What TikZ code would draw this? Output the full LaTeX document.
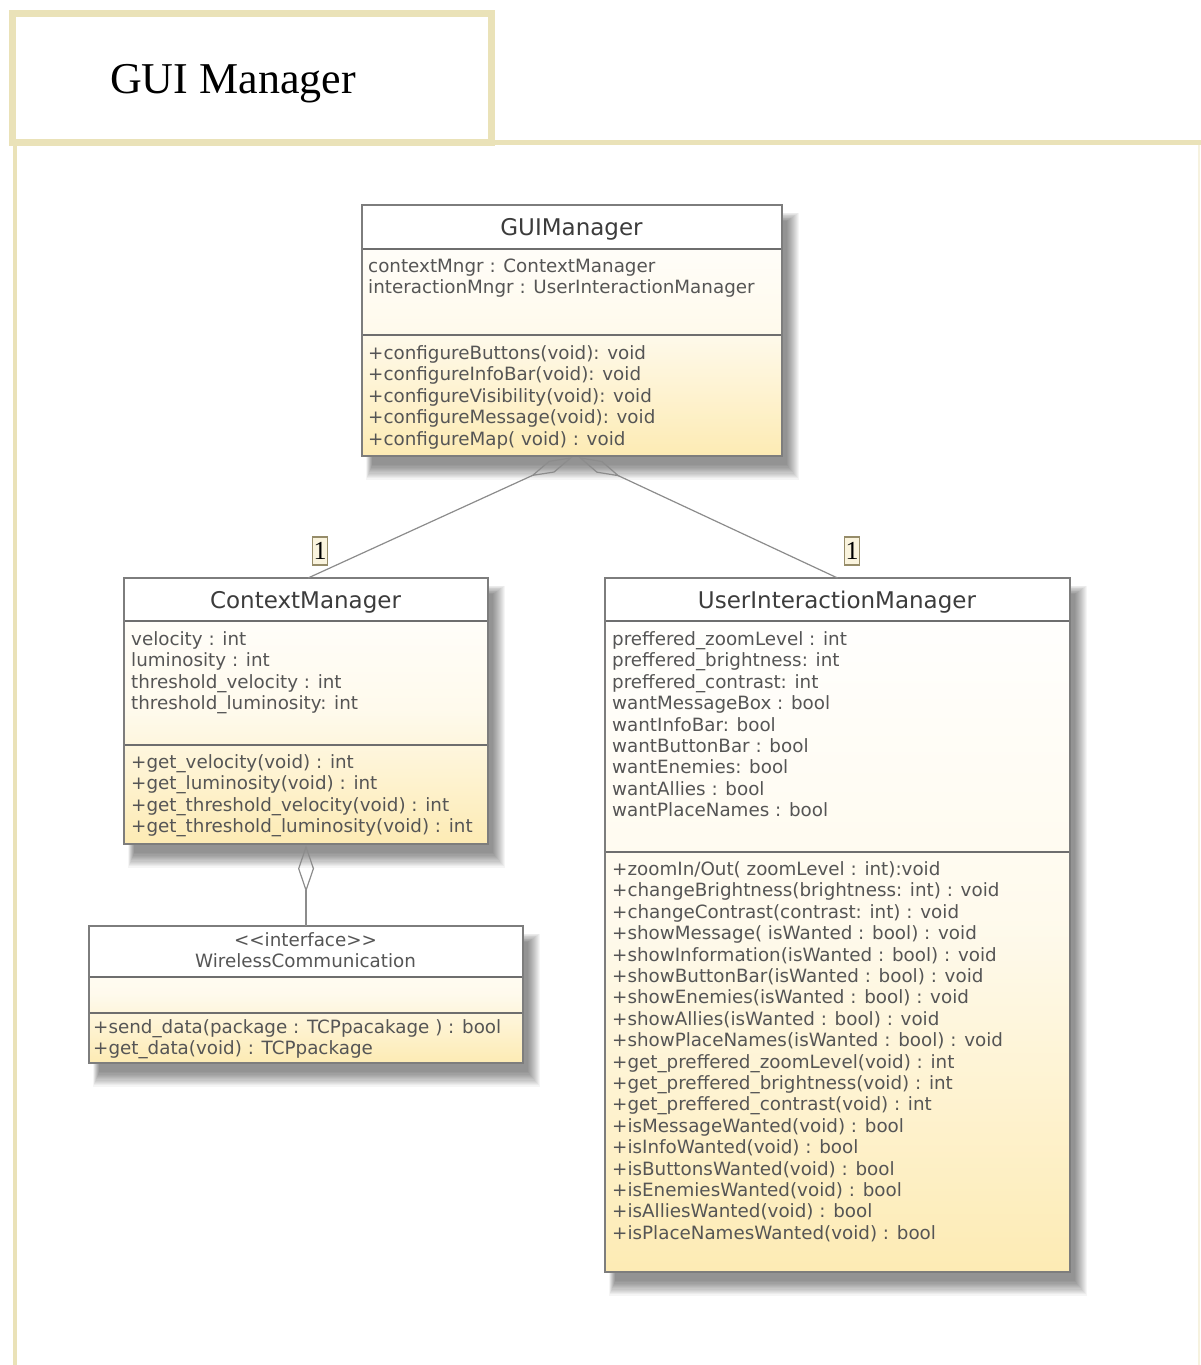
\documentclass[tikz,border=0pt]{standalone}
\usepackage{fontspec}
\newfontfamily\umlfont{DejaVu Sans}
\newfontfamily\titleserif{Liberation Serif}
\usetikzlibrary{arrows.meta,backgrounds}

\definecolor{framebeige}{RGB}{234,226,184}
\definecolor{classyellow}{RGB}{253,235,180}
\definecolor{classedge}{RGB}{125,125,125}
\definecolor{septone}{RGB}{110,110,110}
\definecolor{membertext}{RGB}{85,85,85}
\definecolor{headtext}{RGB}{60,60,60}
\definecolor{linkgray}{RGB}{140,140,140}
\definecolor{multfill}{RGB}{250,244,222}
\definecolor{multedge}{RGB}{150,140,105}

\tikzset{
  classbox/.style={rectangle, inner sep=0pt, draw=classedge, line width=1.1pt,
    top color=white, bottom color=classyellow, middle color=classyellow!25!white},
  headfill/.style={fill=white},
  sepline/.style={draw=septone, line width=1.4pt},
  edgeline/.style={draw=classedge, line width=1.1pt},
  member/.style={font=\umlfont\fontsize{18.3}{21.4}\selectfont, text=membertext, inner sep=0pt, anchor=base west},
  classname/.style={font=\umlfont\fontsize{23}{26}\selectfont, text=headtext, inner sep=0pt, anchor=base},
  link/.style={draw=linkgray, line width=1.2pt},
  mult/.style={draw=multedge, fill=multfill, line width=1.2pt, inner sep=0pt,
    minimum width=15pt, minimum height=28pt, font=\titleserif\fontsize{26}{26}\selectfont},
  shadowlayer/.style={fill=black, opacity=0.038},
}

% one node per line of a compartment: prefix, x, first baseline, lines
\newcommand\classlines[4]{%
  \foreach \t [count=\k from 0] in {#4} {\node[member] (#1\k) at (#2,{#3+21.4*\k}) {\t};}}

% soft drop shadow behind a class box, built from stacked translucent rectangles
\newcommand\softshadow[1]{%
  \foreach \e in {0,...,12} {%
    \pgfmathsetmacro\sxa{10-0.5*\e}\pgfmathsetmacro\sya{-16+0.7*\e}%
    \pgfmathsetmacro\sxb{5+\e}\pgfmathsetmacro\syb{-9-1.2*\e}%
    \fill[shadowlayer] ([xshift=\sxa pt, yshift=\sya pt]#1.north west)
      rectangle ([xshift=\sxb pt, yshift=\syb pt]#1.south east);}}

\begin{document}
\begin{tikzpicture}[x=1pt,y=-1pt]
\useasboundingbox (0,0) rectangle (1201,1365);

% frame with the title tab
\draw[framebeige, line width=7pt] (12,13) rectangle (491,142);
\draw[framebeige, line width=5pt] (491,142) -- (1201,142);
\draw[framebeige, line width=4pt] (15,145) -- (15,1365);
\draw[framebeige!45, line width=2pt] (1199,145) -- (1199,1365);
\node[font=\titleserif\fontsize{44}{44}\selectfont, anchor=base west, inner sep=0pt] (title) at (110,93) {GUI Manager};

% ---------- GUIManager ----------
\node[classbox, minimum width=419pt, minimum height=250pt, anchor=north west] (gui) at (362,205) {};
\fill[headfill] (362,205) rectangle (781,249);
\draw[sepline] (362,249) -- (781,249);
\draw[sepline] (362,335) -- (781,335);
\draw[edgeline] (gui.north west) rectangle (gui.south east);
\node[classname] (guiname) at (571.5,235) {GUIManager};
\classlines{guiattr}{368}{272.5}{contextMngr : ContextManager, interactionMngr : UserInteractionManager}
\classlines{guiop}{368}{359.5}{+configureButtons(void): void, +configureInfoBar(void): void,
  +configureVisibility(void): void, +configureMessage(void): void, +configureMap( void) : void}

% ---------- ContextManager ----------
\node[classbox, minimum width=363pt, minimum height=265pt, anchor=north west] (cm) at (124,578) {};
\fill[headfill] (124,578) rectangle (487,621);
\draw[sepline] (124,621) -- (487,621);
\draw[sepline] (124,745) -- (487,745);
\draw[edgeline] (cm.north west) rectangle (cm.south east);
\node[classname] (cmname) at (305.5,608) {ContextManager};
\classlines{cmattr}{131}{645.5}{velocity : int, luminosity : int, threshold\_velocity : int, threshold\_luminosity: int}
\classlines{cmop}{131}{768.5}{+get\_velocity(void) : int, +get\_luminosity(void) : int,
  +get\_threshold\_velocity(void) : int, +get\_threshold\_luminosity(void) : int}

% ---------- WirelessCommunication ----------
\node[classbox, minimum width=433pt, minimum height=136pt, anchor=north west] (wc) at (89,926) {};
\fill[headfill] (89,926) rectangle (522,977);
\draw[sepline] (89,977) -- (522,977);
\draw[sepline] (89,1013) -- (522,1013);
\draw[edgeline] (wc.north west) rectangle (wc.south east);
\node[member, anchor=base] (wcstereo) at (305.5,946) {<<interface>>};
\node[member, anchor=base] (wcname) at (305.5,967.5) {WirelessCommunication};
\classlines{wcop}{93}{1033.5}{+send\_data(package : TCPpacakage ) : bool, +get\_data(void) : TCPpackage}

% ---------- UserInteractionManager ----------
\node[classbox, minimum width=464pt, minimum height=693pt, anchor=north west] (uim) at (605,578) {};
\fill[headfill] (605,578) rectangle (1069,621);
\draw[sepline] (605,621) -- (1069,621);
\draw[sepline] (605,852) -- (1069,852);
\draw[edgeline] (uim.north west) rectangle (uim.south east);
\node[classname] (uimname) at (837,608) {UserInteractionManager};
\classlines{uimattr}{612}{645.5}{preffered\_zoomLevel : int, preffered\_brightness: int,
  preffered\_contrast: int, wantMessageBox : bool, wantInfoBar: bool, wantButtonBar : bool,
  wantEnemies: bool, wantAllies : bool, wantPlaceNames : bool}
\classlines{uimop}{612}{875.5}{{+zoomIn/Out( zoomLevel : int):void},
  +changeBrightness(brightness: int) : void, +changeContrast(contrast: int) : void,
  +showMessage( isWanted : bool) : void, +showInformation(isWanted : bool) : void,
  +showButtonBar(isWanted : bool) : void, +showEnemies(isWanted : bool) : void,
  +showAllies(isWanted : bool) : void, +showPlaceNames(isWanted : bool) : void,
  +get\_preffered\_zoomLevel(void) : int, +get\_preffered\_brightness(void) : int,
  +get\_preffered\_contrast(void) : int, +isMessageWanted(void) : bool,
  +isInfoWanted(void) : bool, +isButtonsWanted(void) : bool, +isEnemiesWanted(void) : bool,
  +isAlliesWanted(void) : bool, +isPlaceNamesWanted(void) : bool}

% ---------- shadows, page background ----------
\begin{pgfonlayer}{background}
  \fill[white] (0,0) rectangle (1201,1365);
  \softshadow{gui}
  \softshadow{cm}
  \softshadow{wc}
  \softshadow{uim}
\end{pgfonlayer}

% ---------- aggregations ----------
\draw[link, {Diamond[open,length=46pt,width=13pt]}-] ([xshift=0.5pt,yshift=-1pt]gui.south) -- ([xshift=2pt]cm.north);
\draw[link, {Diamond[open,length=46pt,width=13pt]}-] ([xshift=6.5pt,yshift=-1pt]gui.south) -- (uim.north);
\draw[link, {Diamond[open,length=47pt,width=16pt]}-] ([yshift=-1pt]cm.south) -- (wc.north);

% multiplicities
\node[mult] (mcm) at (320,551) {1};
\node[mult] (muim) at (852,551) {1};
\end{tikzpicture}
\end{document}
